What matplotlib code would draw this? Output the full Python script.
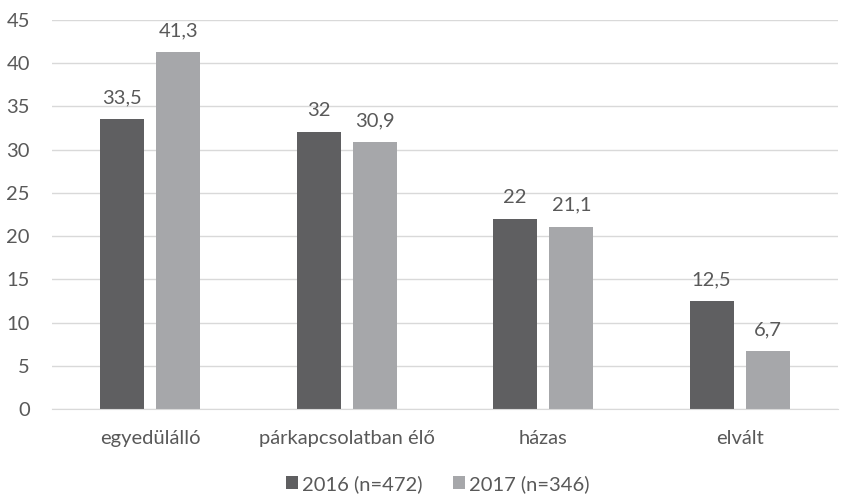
import matplotlib.pyplot as plt
import numpy as np

categories = ["egyedülálló", "párkapcsolatban élő", "házas", "elvált"]
values_2016 = [33.5, 32, 22, 12.5]
values_2017 = [41.3, 30.9, 21.1, 6.7]
series_names = ["2016 (n=472)", "2017 (n=346)"]
y_ticks = [0, 5, 10, 15, 20, 25, 30, 35, 40, 45]

plt.rcParams["font.family"] = ["Lato", "DejaVu Sans"]
text_color = "#595959"
colors = ["#5f5f61", "#a6a7aa"]
fs = 14.5

fig = plt.figure(figsize=(8.45, 4.97), dpi=100)
ax = fig.add_axes([52 / 845, 1 - 409 / 497, (838 - 52) / 845, 389 / 497])

x = np.arange(len(categories))
width = 0.224
offset = 0.143

for i, (vals, name) in enumerate(zip([values_2016, values_2017], series_names)):
    pos = x + (offset if i else -offset)
    bars = ax.bar(pos, vals, width, color=colors[i], label=name, zorder=3)
    for b, v in zip(bars, vals):
        lbl = f"{v:g}".replace(".", ",")
        ax.text(b.get_x() + b.get_width() / 2, v + 1.5, lbl,
                ha="center", va="bottom", fontsize=fs, color=text_color)

ax.set_xlim(-0.5, len(categories) - 0.5)
ax.set_ylim(0, 45)
ax.set_yticks(y_ticks)
ax.yaxis.grid(True, color="#d9d9d9", linewidth=1, zorder=0)
ax.set_xticks(x)
ax.set_xticklabels(categories)
ax.tick_params(axis="both", length=0, labelsize=fs, colors=text_color)
ax.tick_params(axis="x", pad=15)
ax.tick_params(axis="y", pad=16)
for s in ["top", "right", "left"]:
    ax.spines[s].set_visible(False)
ax.spines["bottom"].set_color("#d9d9d9")
ax.spines["bottom"].set_zorder(4)

leg = fig.legend(loc="center", bbox_to_anchor=(0.518, 1 - 484 / 497), ncol=2,
                 frameon=False, fontsize=fs, handlelength=0.6, handleheight=0.6,
                 handletextpad=0.2, columnspacing=1.5, borderpad=0)
for t in leg.get_texts():
    t.set_color(text_color)

fig.savefig("out.png", dpi=100)
